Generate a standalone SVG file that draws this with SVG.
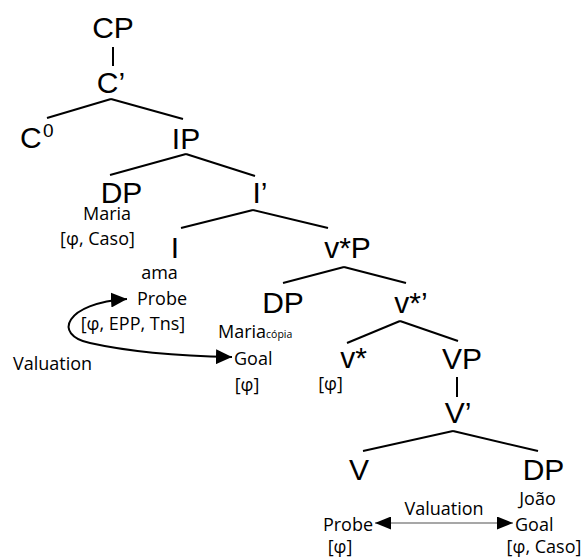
<svg xmlns="http://www.w3.org/2000/svg" width="583" height="559" viewBox="0 0 583 559">
<style>
.cat{font-family:"Liberation Sans",Arial,sans-serif;font-size:30px;fill:#000}
.sm{font-family:"Open Sans","Noto Sans",sans-serif;font-size:18px;fill:#000}
.mid{text-anchor:middle}
.edge{stroke:#000;stroke-width:2;fill:none}
</style>
<defs>
<marker id="ah" viewBox="0 0 16 15" refX="16" refY="7.5" markerWidth="16" markerHeight="15" markerUnits="userSpaceOnUse" orient="auto-start-reverse">
<path d="M0,0 L16,7.5 L0,15 Z" fill="#000"/>
</marker>
<marker id="ah2" viewBox="0 0 16 13" refX="16" refY="6.5" markerWidth="16" markerHeight="13" markerUnits="userSpaceOnUse" orient="auto-start-reverse">
<path d="M0,0 L16,6.5 L0,13 Z" fill="#000"/>
</marker>
</defs>
<rect width="583" height="559" fill="#fff"/>
<g id="connectors">
<line class="edge" x1="113" y1="47" x2="113" y2="66"/>
<line class="edge" x1="111" y1="99" x2="47" y2="118"/>
<line class="edge" x1="111" y1="99" x2="183" y2="119"/>
<line class="edge" x1="186" y1="154" x2="110" y2="175"/>
<line class="edge" x1="186" y1="154" x2="255" y2="176"/>
<line class="edge" x1="253" y1="210" x2="181" y2="228"/>
<line class="edge" x1="253" y1="210" x2="328" y2="228"/>
<line class="edge" x1="344" y1="267" x2="283" y2="283"/>
<line class="edge" x1="344" y1="267" x2="406" y2="283"/>
<line class="edge" x1="400" y1="321" x2="347" y2="343"/>
<line class="edge" x1="400" y1="321" x2="458" y2="341"/>
<line class="edge" x1="457" y1="377" x2="457" y2="397"/>
<line class="edge" x1="453" y1="431" x2="363" y2="451"/>
<line class="edge" x1="453" y1="431" x2="538" y2="451"/>
<path id="valuation-curve" class="edge" d="M127,299 C65,303 52,335 90,343 C130,352 180,356 232,357" marker-start="url(#ah)" marker-end="url(#ah)"/>
<line id="valuation-line" x1="375" y1="523" x2="513" y2="523" stroke="#8a8a8a" stroke-width="1.3" marker-start="url(#ah2)" marker-end="url(#ah2)"/>
</g>
<g id="CP"><text class="cat mid" x="113" y="38">CP</text></g>
<g id="Cbar"><text class="cat mid" x="111" y="93">C’</text></g>
<g id="C0"><text class="cat" x="20" y="148">C</text><text class="cat" x="43" y="137" style="font-size:19px">0</text></g>
<g id="IP"><text class="cat mid" x="186" y="149">IP</text></g>
<g id="DP-subj"><text class="cat mid" x="121.5" y="203">DP</text>
<text class="sm mid" x="107" y="220">Maria</text>
<text class="sm mid" x="97.5" y="245">[φ, Caso]</text></g>
<g id="Ibar"><text class="cat mid" x="260" y="203">I’</text></g>
<g id="I"><text class="cat mid" x="175" y="258">I</text>
<text class="sm mid" x="159.5" y="279">ama</text>
<text class="sm mid" x="162" y="305">Probe</text>
<text class="sm mid" x="133" y="330">[φ, EPP, Tns]</text></g>
<g id="vP"><text class="cat mid" x="347.5" y="258">v*P</text></g>
<g id="DP-copy"><text class="cat mid" x="283" y="313">DP</text>
<text class="sm" x="218" y="338">Maria<tspan style="font-size:10.5px">cópia</tspan></text>
<text class="sm" x="234" y="365">Goal</text>
<text class="sm mid" x="247" y="391">[φ]</text></g>
<g id="valuation-left"><text class="sm" x="13" y="370">Valuation</text></g>
<g id="vbar"><text class="cat mid" x="411" y="313">v*’</text></g>
<g id="vstar"><text class="cat mid" x="353.5" y="368">v*</text>
<text class="sm mid" x="330.5" y="390">[φ]</text></g>
<g id="VP"><text class="cat mid" x="462" y="369">VP</text></g>
<g id="Vbar"><text class="cat mid" x="458" y="423">V’</text></g>
<g id="V"><text class="cat mid" x="359" y="480">V</text>
<text class="sm mid" x="348" y="531">Probe</text>
<text class="sm mid" x="340" y="553">[φ]</text></g>
<g id="DP-obj"><text class="cat mid" x="543.5" y="480">DP</text>
<text class="sm mid" x="537.5" y="505">João</text>
<text class="sm" x="515" y="531">Goal</text>
<text class="sm mid" x="544" y="553">[φ, Caso]</text></g>
<g id="valuation-right"><text class="sm mid" x="444" y="515">Valuation</text></g>
</svg>
